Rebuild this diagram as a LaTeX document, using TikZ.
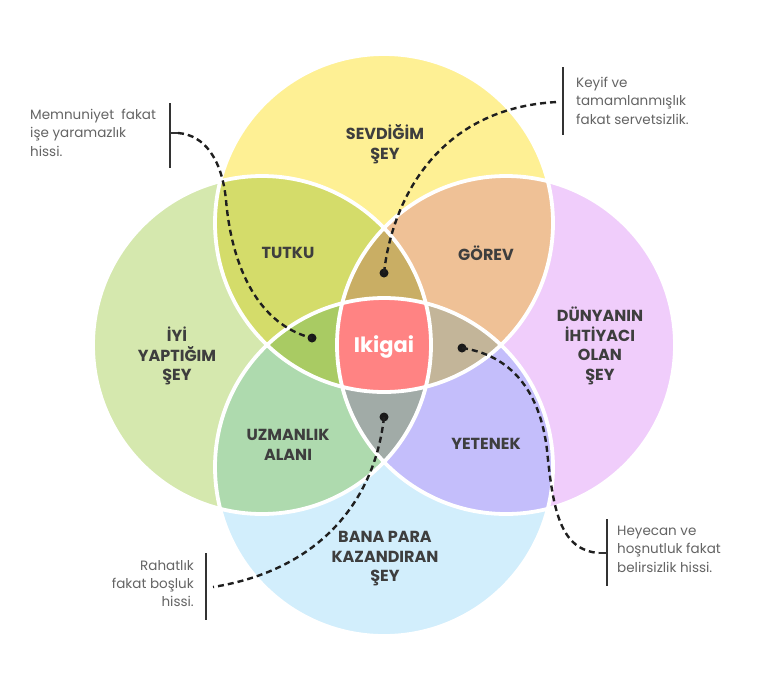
\documentclass[tikz,border=0pt]{standalone}
\usepackage{fontspec}
\setmainfont{Poppins}
\definecolor{cT}{HTML}{FEF094}
\definecolor{cL}{HTML}{D5E8AE}
\definecolor{cR}{HTML}{F0CDFB}
\definecolor{cB}{HTML}{D2EEFC}
\definecolor{cTL}{HTML}{D4DC6A}
\definecolor{cTR}{HTML}{EFC196}
\definecolor{cBL}{HTML}{AEDAAE}
\definecolor{cBR}{HTML}{C4BEFB}
\definecolor{cTLR}{HTML}{C9AE64}
\definecolor{cTLB}{HTML}{A9CB63}
\definecolor{cTRB}{HTML}{C3B599}
\definecolor{cBLR}{HTML}{A1ABA7}
\definecolor{cAll}{HTML}{FF8383}
\definecolor{labelgray}{HTML}{3E3E3E}
\definecolor{notegray}{HTML}{646464}
\def\CirT{(384,223) circle[radius=169pt]}
\def\CirL{(262,345) circle[radius=169pt]}
\def\CirR{(506,345) circle[radius=169pt]}
\def\CirB{(384,467) circle[radius=169pt]}
\begin{document}
\begin{tikzpicture}[x=1pt,y=-1pt,
  lbl/.style={font=\fontsize{16}{19.5}\selectfont\bfseries, text=labelgray, align=center, inner sep=0pt},
  note/.style={font=\fontsize{13.5}{18.3}\selectfont, text=notegray, inner sep=0pt},
  dotnode/.style={circle, fill=black!90, minimum size=9pt, inner sep=0pt},
  conn/.style={line width=2.4pt, dash pattern=on 6pt off 4pt, draw=black!88},
  brk/.style={line width=2.8pt, draw=black!80},
  rim/.style={draw=white, line width=3.8pt}]
\useasboundingbox (0,0) rectangle (768,697);
\fill[white] (0,0) rectangle (768,697);
% base circles
\fill[cT] \CirT;
\fill[cL] \CirL;
\fill[cR] \CirR;
\fill[cB] \CirB;
% pairs
\begin{scope}\clip \CirT; \fill[cTL] \CirL; \end{scope}
\begin{scope}\clip \CirT; \fill[cTR] \CirR; \end{scope}
\begin{scope}\clip \CirB; \fill[cBL] \CirL; \end{scope}
\begin{scope}\clip \CirB; \fill[cBR] \CirR; \end{scope}
% triples
\begin{scope}\clip \CirT; \clip \CirL; \fill[cTLR] \CirR; \end{scope}
\begin{scope}\clip \CirT; \clip \CirL; \fill[cTLB] \CirB; \end{scope}
\begin{scope}\clip \CirT; \clip \CirR; \fill[cTRB] \CirB; \end{scope}
\begin{scope}\clip \CirB; \clip \CirL; \fill[cBLR] \CirR; \end{scope}
% all four
\begin{scope}\clip \CirT; \clip \CirL; \clip \CirR; \fill[cAll] \CirB; \end{scope}
% white rims
\draw[rim] \CirT;
\draw[rim] \CirL;
\draw[rim] \CirR;
\draw[rim] \CirB;
% labels
\node[lbl] (sev) at (385,144) {SEVDİĞİM\\ŞEY};
\node[lbl] (iyi) at (177,356) {İYİ\\YAPTIĞIM\\ŞEY};
\node[lbl] (dun) at (600,346) {DÜNYANIN\\İHTİYACI\\OLAN\\ŞEY};
\node[lbl] (ban) at (385,559) {BANA PARA\\KAZANDIRAN\\ŞEY};
\node[lbl] (tut) at (288,253) {TUTKU};
\node[lbl] (gor) at (486,253) {GÖREV};
\node[lbl] (uzm) at (288,445) {UZMANLIK\\ALANI};
\node[lbl] (yet) at (486,444) {YETENEK};
\node[font=\fontsize{21}{24}\selectfont\bfseries, text=white, inner sep=0pt] (iki) at (384,347) {Ikigai};
% dots
\node[dotnode] (dL) at (312,338) {};
\node[dotnode] (dT) at (384,273) {};
\node[dotnode] (dR) at (462,348) {};
\node[dotnode] (dB) at (384,417) {};
% brackets
\coordinate (b1a) at (170,103); \coordinate (b1b) at (170,168); \coordinate (b1m) at (170,133); \coordinate (e1) at (178,133);
\coordinate (b2a) at (563,67);  \coordinate (b2b) at (563,135); \coordinate (e2) at (557,102);
\coordinate (b3a) at (206,553); \coordinate (b3b) at (206,620); \coordinate (e3) at (213,587);
\coordinate (b4a) at (607,519); \coordinate (b4b) at (607,586); \coordinate (b4m) at (607,553); \coordinate (e4) at (599,553);
\draw[brk] (b1a) -- (b1b);
\draw[brk] (b2a) -- (b2b);
\draw[brk] (b3a) -- (b3b);
\draw[brk] (b4a) -- (b4b);
\draw[line width=2.4pt, draw=black!80] (b1m) -- (e1);
\draw[line width=2.4pt, draw=black!80] (b4m) -- (e4);
% connectors
\draw[conn] (e1) .. controls (205,135) and (222,160) .. (226,200) .. controls (232,270) and (260,325) .. (dL.center);
\draw[conn] (dT.center) .. controls (392,200) and (438,108) .. (e2);
\draw[conn] (dR.center) .. controls (510,355) and (540,390) .. (547,450) .. controls (553,510) and (560,550) .. (e4);
\draw[conn] (dB.center) .. controls (375,500) and (320,570) .. (e3);
% notes
\node[note, anchor=north west, align=left] (n1) at (30,109) {Memnuniyet\ \ fakat\\işe yaramazlık\\hissi.};
\node[note, anchor=north west, align=left] (n2) at (576,77) {Keyif ve\\tamamlanmışlık\\fakat servetsizlik.};
\node[note, anchor=north east, align=right] (n3) at (194,560) {Rahatlık\\fakat boşluk\\hissi.};
\node[note, anchor=north west, align=left] (n4) at (617,526) {Heyecan ve\\hoşnutluk fakat\\belirsizlik hissi.};
\end{tikzpicture}
\end{document}
